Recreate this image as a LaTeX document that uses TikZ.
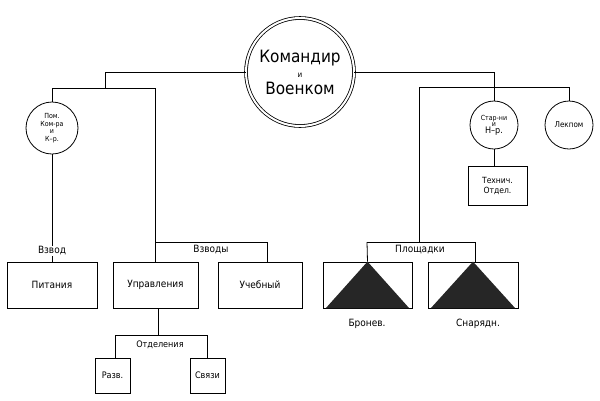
\documentclass[tikz,border=0pt]{standalone}
\usepackage{fontspec}
\setmainfont{DejaVu Sans Condensed}
\begin{document}
\begin{tikzpicture}[x=1pt,y=-1pt,line width=0.8pt,
  bx/.style={draw,rectangle,inner sep=0pt},
  lbl/.style={font=\fontsize{10}{10}\selectfont,fill=white,inner sep=1pt},
  cir/.style={draw,circle,inner sep=0pt,align=center}]
\useasboundingbox (0,0) rectangle (600,400);
% main circle
\node[cir,double,double distance=2pt,minimum size=108pt,font=\fontsize{17}{19}\selectfont] (main) at (300,72) {Командир\\[-4pt]{\fontsize{8}{8}\selectfont и}\\[-2pt]Военком};
% left circle
\node[cir,minimum size=52pt,font=\fontsize{7}{7.5}\selectfont] (pom) at (52,128) {Пом.\\Ком-ра\\и\\К--р.};
% right circles
\node[cir,minimum size=48pt,font=\fontsize{7}{8}\selectfont] (star) at (494,125) {Стар-ни\\[-2pt]и\\[-1pt]{\fontsize{9}{9}\selectfont Н--р.}};
\node[cir,minimum size=48pt,font=\fontsize{8}{8}\selectfont] (lek) at (569,125) {Лекпом};
\node[bx,minimum width=59pt,minimum height=39pt,align=center,font=\fontsize{8.5}{10}\selectfont] (tech) at (497.5,185.5) {Технич.\\Отдел.};
% boxes
\node[bx,minimum width=90pt,minimum height=46pt,font=\fontsize{10}{10}\selectfont] (pit) at (52,285) {Питания};
\node[bx,minimum width=85pt,minimum height=46pt,font=\fontsize{10}{10}\selectfont] (upr) at (155.5,285) {Управления};
\node[bx,minimum width=84pt,minimum height=46pt,font=\fontsize{10}{10}\selectfont] (ucheb) at (260,285) {Учебный};
\node[bx,minimum width=35pt,minimum height=35pt,font=\fontsize{9}{9}\selectfont] (razv) at (112.5,375.5) {Разв.};
\node[bx,minimum width=35pt,minimum height=35pt,font=\fontsize{9}{9}\selectfont] (sv) at (207.5,375.5) {Связи};
\node[bx,minimum width=89pt,minimum height=46pt] (bron) at (367.5,285) {};
\node[bx,minimum width=90pt,minimum height=46pt] (snar) at (473,285) {};
\fill[black!85] (bron.north) -- ([xshift=3pt]bron.south west) -- ([xshift=-3pt]bron.south east) -- cycle;
\fill[black!85] (snar.north) -- ([xshift=3pt]snar.south west) -- ([xshift=-3pt]snar.south east) -- cycle;
\node[font=\fontsize{10}{10}\selectfont] (bronl) at (367,324) {Бронев.};
\node[font=\fontsize{10}{10}\selectfont] (snarl) at (478,324) {Снарядн.};
% coordinates
\coordinate (L1) at (105,72); \coordinate (L2) at (105,88);
\coordinate (L3) at (52,88); \coordinate (L4) at (155,88);
\coordinate (L5) at (155,242); \coordinate (L6) at (267,242);
\coordinate (R1) at (494,72); \coordinate (R2) at (494,87);
\coordinate (R3) at (419,87); \coordinate (R4) at (569,87);
\coordinate (R5) at (419,242); \coordinate (R6) at (367,242); \coordinate (R7) at (475,242);
\coordinate (U1) at (158,335); \coordinate (U2) at (115,335); \coordinate (U3) at (207,335);
% connectors
\draw (main.west) -- (L1) -- (L2);
\draw (L3) -- (L4);
\draw (L3) -- (pom.north);
\draw (L4) -- (L5) -- (L6) -- (L6 |- ucheb.north);
\draw (L5) -- (L5 |- upr.north);
\draw (pom.south) -- (pit.north);
\draw (main.east) -- (R1) -- (R2);
\draw (R3) -- (R4) -- (lek.north);
\draw (R2) -- (star.north);
\draw (star.south) -- (star.south |- tech.north);
\draw (R3) -- (R5);
\draw (R6) -- (R7);
\draw (R6) -- (bron.north); \draw (R7) -- (R7 |- snar.north);
\draw (U1 |- upr.south) -- (U1);
\draw (U2) -- (U3);
\draw (U2) -- (U2 |- razv.north); \draw (U3) -- (U3 |- sv.north);
% labels
\node[lbl] (vz) at (52,251) {Взвод};
\node[lbl] (vzy) at (211,250) {Взводы};
\node[lbl] (pl) at (420,250) {Площадки};
\node[lbl,font=\fontsize{9}{9}\selectfont] (otd) at (160,345) {Отделения};
\end{tikzpicture}
\end{document}
